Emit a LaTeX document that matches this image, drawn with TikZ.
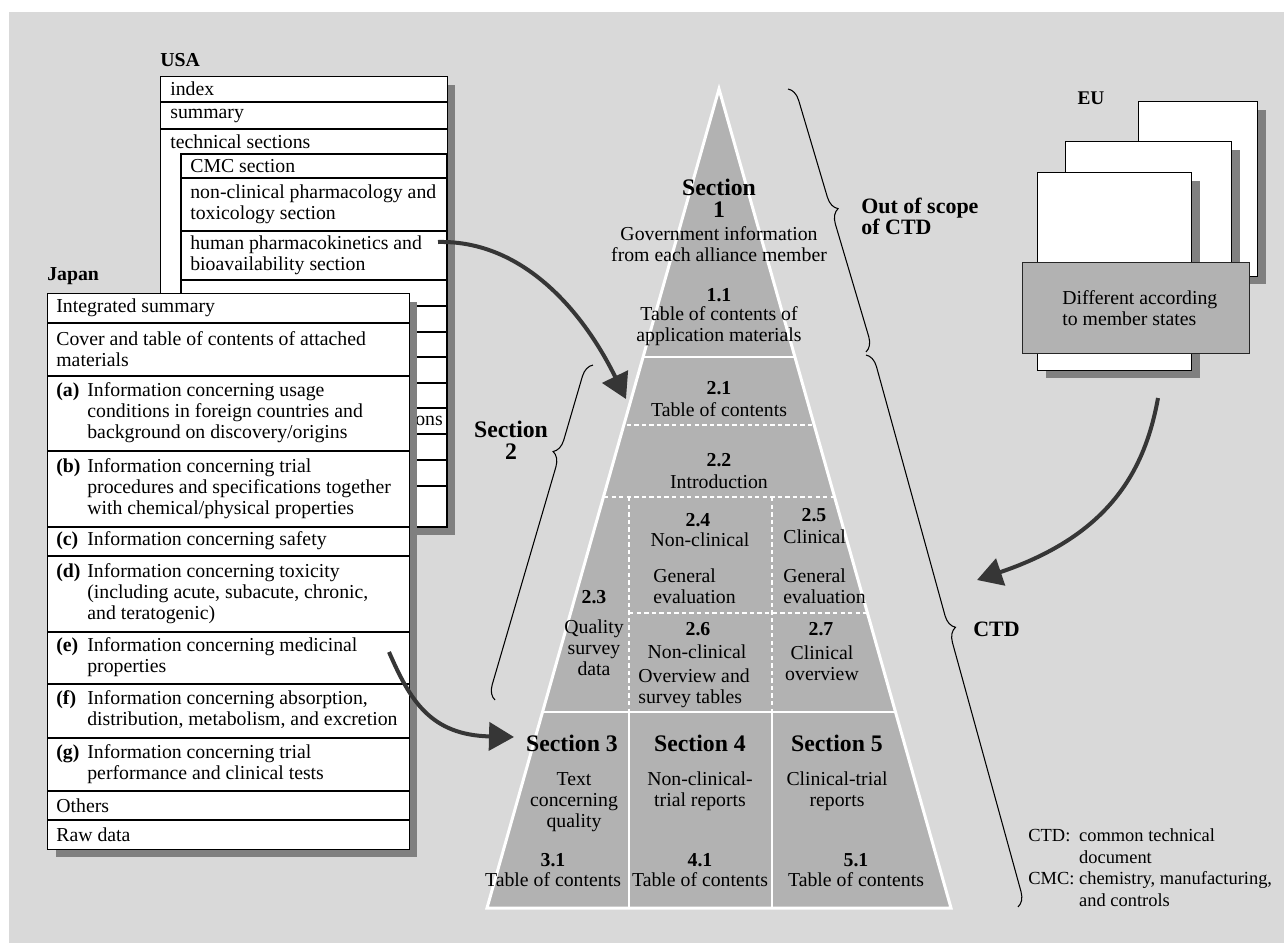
\documentclass[tikz,border=0pt]{standalone}
\usepackage{fontspec}
\setmainfont{Liberation Serif}
\usepackage{tikz}
\usetikzlibrary{arrows.meta,shadows,decorations.pathreplacing}

\definecolor{bggray}{RGB}{217,217,217}
\definecolor{pyrgray}{RGB}{178,178,178}
\definecolor{shadowgray}{RGB}{128,128,128}
\definecolor{arrowgray}{RGB}{54,54,54}

\newcommand{\rowfont}{\fontsize{11.25}{11.9}\selectfont}
\newcommand{\numfont}{\fontsize{11.25}{11.9}\selectfont\bfseries}
\newcommand{\secfont}{\fontsize{13.5}{12.4}\selectfont\bfseries}
\newcommand{\capfont}{\fontsize{12.5}{11.9}\selectfont\bfseries}
\newcommand{\notefont}{\fontsize{10.5}{12.3}\selectfont}

\tikzset{
  sheet/.style={draw, fill=white, line width=0.6pt, inner sep=0pt, anchor=north west,
    drop shadow={shadow xshift=0.16cm, shadow yshift=-0.16cm, fill=shadowgray, opacity=1}},
  rowtext/.style={anchor=west, inner sep=0pt, align=left, font=\rowfont},
  pyrtext/.style={inner sep=0pt, align=center, font=\rowfont},
  pyrnum/.style={inner sep=0pt, font=\numfont},
  pyrsec/.style={inner sep=0pt, align=center, font=\secfont},
  rowline/.style={line width=0.6pt},
  cutline/.style={white, line width=1.2pt},
  cutdash/.style={white, line width=1.2pt, dash pattern=on 2.5pt off 1.8pt},
  bigarrow/.style={arrowgray, line width=0.08cm, -{Triangle[length=0.5cm, width=0.56cm]}},
  bracket/.style={decorate, decoration={brace, amplitude=0.28cm}, line width=0.6pt},
}

\begin{document}
\begin{tikzpicture}[x=0.02cm, y=-0.02cm]
\useasboundingbox (0,0) rectangle (1284,943);
\fill[bggray] (9,12) rectangle (1284,943);

% USA
\node[anchor=west, inner sep=0pt, font=\numfont] (usalabel) at (160,60) {USA};
\node[sheet, minimum width=5.74cm, minimum height=9.02cm] (usa) at (160,76) {};
\draw[rowline] (160,102) -- (447,102);
\draw[rowline] (160,129) -- (447,129);
\draw[rowline] (181,154) rectangle (447,527);
\draw[rowline] (181,178) -- (447,178);
\draw[rowline] (181,231) -- (447,231);
\draw[rowline] (181,280) -- (447,280);
\draw[rowline] (181,306) -- (447,306);
\draw[rowline] (181,332) -- (447,332);
\draw[rowline] (181,357) -- (447,357);
\draw[rowline] (181,383) -- (447,383);
\draw[rowline] (181,408) -- (447,408);
\draw[rowline] (181,434) -- (447,434);
\draw[rowline] (181,460) -- (447,460);
\draw[rowline] (181,486) -- (447,486);
\node[rowtext] (usaindex) at (170,89) {index};
\node[rowtext] (usasummary) at (170,115.5) {summary};
\node[rowtext] (usatech) at (170,141.5) {technical sections};
\node[rowtext] (usacmc) at (190,166) {CMC section};
\node[rowtext] (usanoncl) at (190,204.5) {non-clinical pharmacology and\\toxicology section};
\node[rowtext] (usahuman) at (190,255.5) {human pharmacokinetics and\\bioavailability section};
\node[rowtext] (usaons) at (415,421) {ons};

% Japan
\node[anchor=west, inner sep=0pt, font=\numfont] (japanlabel) at (47,276) {Japan};
\node[sheet, minimum width=7.24cm, minimum height=11.12cm] (japan) at (47,293) {};
\draw[rowline] (47,323) -- (409,323);
\draw[rowline] (47,376) -- (409,376);
\draw[rowline] (47,451) -- (409,451);
\draw[rowline] (47,527) -- (409,527);
\draw[rowline] (47,556) -- (409,556);
\draw[rowline] (47,632) -- (409,632);
\draw[rowline] (47,684) -- (409,684);
\draw[rowline] (47,738) -- (409,738);
\draw[rowline] (47,791) -- (409,791);
\draw[rowline] (47,820) -- (409,820);
\node[rowtext] (jpsum) at (56,308) {Integrated summary};
\node[rowtext] (jpcover) at (56,349.5) {Cover and table of contents of attached\\materials};
\node[rowtext] (jpa) at (56,413.5) {\begin{tabular}{@{}p{0.62cm}@{}l@{}}\textbf{(a)} & Information concerning usage\\ & conditions in foreign countries and\\ & background on discovery/origins\end{tabular}};
\node[rowtext] (jpb) at (56,489) {\begin{tabular}{@{}p{0.62cm}@{}l@{}}\textbf{(b)} & Information concerning trial\\ & procedures and specifications together\\ & with chemical/physical properties\end{tabular}};
\node[rowtext] (jpc) at (56,541.5) {\begin{tabular}{@{}p{0.62cm}@{}l@{}}\textbf{(c)} & Information concerning safety\end{tabular}};
\node[rowtext] (jpd) at (56,594) {\begin{tabular}{@{}p{0.62cm}@{}l@{}}\textbf{(d)} & Information concerning toxicity\\ & (including acute, subacute, chronic,\\ & and teratogenic)\end{tabular}};
\node[rowtext] (jpe) at (56,658) {\begin{tabular}{@{}p{0.62cm}@{}l@{}}\textbf{(e)} & Information concerning medicinal\\ & properties\end{tabular}};
\node[rowtext] (jpf) at (56,711) {\begin{tabular}{@{}p{0.62cm}@{}l@{}}\textbf{(f)} & Information concerning absorption,\\ & distribution, metabolism, and excretion\end{tabular}};
\node[rowtext] (jpg) at (56,764.5) {\begin{tabular}{@{}p{0.62cm}@{}l@{}}\textbf{(g)} & Information concerning trial\\ & performance and clinical tests\end{tabular}};
\node[rowtext] (jpothers) at (56,805.5) {Others};
\node[rowtext] (jpraw) at (56,834.5) {Raw data};

% EU
\node[inner sep=0pt, font=\fontsize{11}{12}\selectfont\bfseries] (eulabel) at (1091,98) {EU};
\node[sheet, minimum width=2.38cm, minimum height=3.5cm] (eupage3) at (1138,101) {};
\node[sheet, minimum width=3.32cm, minimum height=3.98cm] (eupage2) at (1065,141) {};
\node[sheet, minimum width=3.08cm, minimum height=3.96cm] (eupage1) at (1037,172) {};
\node[draw=black!85, fill=pyrgray, line width=0.6pt, inner sep=0pt, anchor=north west,
  minimum width=4.54cm, minimum height=1.82cm] (eubox) at (1022,262) {};
\node[rowtext] (eutext) at (1062,308.5) {Different according\\to member states};

% pyramid
\coordinate (apex) at (719,89);
\coordinate (pbl) at (487,908);
\coordinate (pbr) at (951,908);
\fill[pyrgray] (apex) -- (pbl) -- (pbr) -- cycle;
\begin{scope}
\clip (apex) -- (pbl) -- (pbr) -- cycle;
\draw[cutline] (400,357) -- (1000,357);
\draw[cutdash] (400,425) -- (1000,425);
\draw[cutdash] (400,497) -- (1000,497);
\draw[cutdash] (629,613) -- (1000,613);
\draw[cutdash] (629,497) -- (629,712);
\draw[cutdash] (772,497) -- (772,712);
\draw[cutline] (400,712) -- (1000,712);
\draw[cutline] (629,712) -- (629,910);
\draw[cutline] (772,712) -- (772,910);
\end{scope}
\draw[white, line width=1.7pt, line join=miter] (apex) -- (pbl) -- (pbr) -- cycle;

\node[pyrsec] (sec1) at (719,198) {Section\\1};
\node[pyrtext] (govinfo) at (719,244) {Government information\\from each alliance member};
\node[pyrnum] (n11) at (719,295) {1.1};
\node[pyrtext] (toc11) at (719,326) {Table of contents of\\application materials};
\node[pyrnum] (n21) at (719,388) {2.1};
\node[pyrtext] (toc21) at (719,410) {Table of contents};
\node[pyrnum] (n22) at (719,460) {2.2};
\node[pyrtext] (intro) at (719,482) {Introduction};
\node[pyrnum] (n24) at (698,520) {2.4};
\node[pyrtext] (noncl24) at (700,540) {Non-clinical};
\node[rowtext] (geneval24) at (653,586) {General\\evaluation};
\node[pyrnum] (n25) at (814,515) {2.5};
\node[rowtext] (clin25) at (783,537) {Clinical};
\node[rowtext] (geneval25) at (783,586) {General\\evaluation};
\node[pyrnum] (n23) at (594,597) {2.3};
\node[pyrtext] (quality) at (594,648) {Quality\\survey\\data};
\node[pyrnum] (n26) at (698,629) {2.6};
\node[pyrtext] (noncl26) at (697,652) {Non-clinical};
\node[rowtext] (ovsurvey) at (638,688) {Overview and\\survey tables};
\node[pyrnum] (n27) at (821,629) {2.7};
\node[pyrtext] (clinov) at (822,663) {Clinical\\overview};
\node[pyrsec] (sec3) at (572,743) {Section 3};
\node[pyrsec] (sec4) at (700,743) {Section 4};
\node[pyrsec] (sec5) at (837,743) {Section 5};
\node[pyrtext] (textq) at (574,802) {Text\\concerning\\quality};
\node[pyrtext] (nctrial) at (700,791) {Non-clinical-\\trial reports};
\node[pyrtext] (ctrial) at (837,791) {Clinical-trial\\reports};
\node[pyrnum] (n31) at (553,860) {3.1};
\node[pyrtext] (toc31) at (553,880) {Table of contents};
\node[pyrnum] (n41) at (700,860) {4.1};
\node[pyrtext] (toc41) at (700,880) {Table of contents};
\node[pyrnum] (n51) at (856,860) {5.1};
\node[pyrtext] (toc51) at (856,880) {Table of contents};

% braces
\coordinate (oostop) at (788,89);
\coordinate (oosbot) at (866,352);
\coordinate (ctdtop) at (866,355);
\coordinate (ctdbot) at (1018,907);
\coordinate (sectwobot) at (495,700);
\coordinate (sectwotop) at (593,365);
\draw[bracket, decoration={aspect=0.47}] (oostop) -- (oosbot);
\draw[bracket] (ctdtop) -- (ctdbot);
\draw[bracket, decoration={aspect=0.73}] (sectwobot) -- (sectwotop);
\node[pyrsec] (sec2label) at (511,440) {Section\\2};
\node[anchor=west, inner sep=0pt, align=left, font=\capfont] (ooslabel) at (861,216) {Out of scope\\of CTD};
\node[anchor=west, inner sep=0pt, font=\capfont] (ctdlabel) at (973,629) {CTD};
\node[anchor=west, inner sep=0pt, font=\notefont] (notes) at (1028,869.5)
  {\begin{tabular}{@{}l@{ }l@{}}CTD: & common technical\\ & document\\CMC: & chemistry, manufacturing,\\ & and controls\end{tabular}};

% arrows
\coordinate (usafrom) at (438,242);
\coordinate (usato) at (626,399);
\coordinate (jpfrom) at (389,652);
\coordinate (jpto) at (514,737);
\coordinate (eufrom) at (1158,398);
\coordinate (euto) at (977,580);
\draw[bigarrow] (usafrom) .. controls (525,240) and (585,315) .. (usato);
\draw[bigarrow] (jpfrom) .. controls (410,700) and (430,735) .. (jpto);
\draw[bigarrow] (eufrom) .. controls (1145,470) and (1110,535) .. (euto);
\end{tikzpicture}
\end{document}
